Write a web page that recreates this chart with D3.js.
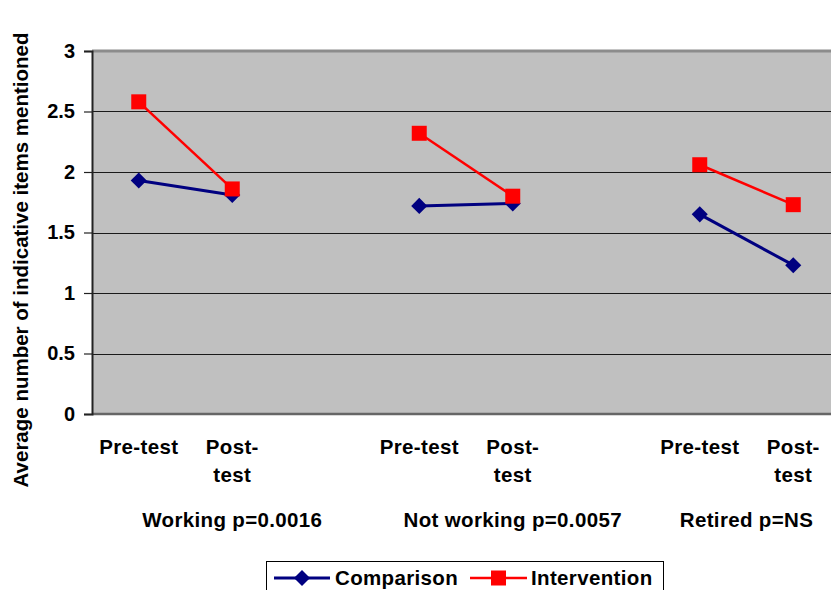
<!DOCTYPE html>
<html>
<head>
<meta charset="utf-8">
<script src="https://cdn.jsdelivr.net/npm/d3@7"></script>
<style>
  html, body { margin: 0; padding: 0; background: #fff; }
  svg { display: block; }
  text { font-family: "Liberation Sans", Arial, sans-serif; font-weight: bold; fill: #000; }
  .lbl { font-size: 20.5px; letter-spacing: 0.35px; }
</style>
</head>
<body>
<svg id="chart" width="831" height="590"></svg>
<script>
// Employment groups and the test phase within each group
const groups = ["Working p=0.0016", "Not working p=0.0057", "Retired p=NS"];
const phases = ["Pre-test", "Post-test"];
const phaseLabels = [["Pre-test"], ["Post-", "test"]];

// Average number of indicative items mentioned, per group: [pre, post]
const comparison = [[1.93, 1.81], [1.72, 1.74], [1.65, 1.23]];
const intervention = [[2.58, 1.86], [2.32, 1.80], [2.06, 1.73]];

const yTicks = [0, 0.5, 1, 1.5, 2, 2.5, 3];
const yTitle = "Average number of indicative items mentioned";
const seriesNames = ["Comparison", "Intervention"];

// Category slots: each group gets its two phases plus an empty spacer (except the last)
const slots = [];
groups.forEach((g, gi) => {
  phases.forEach((p, pi) => slots.push({ key: gi + "-" + pi, group: gi, phase: pi }));
  if (gi < groups.length - 1) slots.push({ key: gi + "-gap", group: gi, phase: null });
});

const svg = d3.select("#chart");
const plot = { left: 92, top: 51, right: 840, bottom: 414 };

const x = d3.scaleBand().domain(slots.map(d => d.key)).range([plot.left, plot.right]).paddingInner(0).paddingOuter(0);
const y = d3.scaleLinear().domain([0, 3]).range([plot.bottom, plot.top]);
const cx = key => x(key) + x.bandwidth() / 2;

// Plot area background
svg.append("rect")
  .attr("x", plot.left).attr("y", plot.top)
  .attr("width", plot.right - plot.left).attr("height", plot.bottom - plot.top)
  .attr("fill", "#c0c0c0");

// Horizontal gridlines
svg.append("g").selectAll("line")
  .data(yTicks.filter(t => t > 0 && t < 3))
  .join("line")
  .attr("x1", plot.left).attr("x2", plot.right)
  .attr("y1", d => Math.round(y(d)) + 0.5).attr("y2", d => Math.round(y(d)) + 0.5)
  .attr("stroke", "#1a1a1a").attr("stroke-width", 1);

// Plot area frame top and bottom
svg.append("line")
  .attr("x1", plot.left).attr("x2", plot.right)
  .attr("y1", plot.top).attr("y2", plot.top)
  .attr("stroke", "#8c8c8c").attr("stroke-width", 3);
svg.append("line")
  .attr("x1", plot.left).attr("x2", plot.right)
  .attr("y1", plot.bottom).attr("y2", plot.bottom)
  .attr("stroke", "#666").attr("stroke-width", 2.5);

// Y axis
const yAxis = d3.axisLeft(y).tickValues(yTicks).tickFormat(d3.format("")).tickSize(8).tickPadding(9);
const yg = svg.append("g").attr("transform", `translate(${plot.left},0)`).call(yAxis);
yg.select(".domain").attr("stroke", "#222").attr("stroke-width", 2);
yg.selectAll(".tick line").attr("stroke", "#222").attr("stroke-width", 1.2);
yg.selectAll(".tick text")
  .attr("font-size", 20).attr("font-family", "Liberation Sans, Arial, sans-serif")
  .attr("font-weight", "bold").attr("fill", "#000");

// Y axis title
svg.append("text")
  .attr("transform", `translate(28,260) rotate(-90)`)
  .attr("text-anchor", "middle")
  .attr("font-size", 20.5)
  .text(yTitle);

// Phase labels under each category
const phaseSlots = slots.filter(d => d.phase !== null);
const pl = svg.append("g").selectAll("text")
  .data(phaseSlots)
  .join("text")
  .attr("class", "lbl")
  .attr("x", d => cx(d.key))
  .attr("y", 454)
  .attr("text-anchor", "middle");
pl.selectAll("tspan")
  .data(d => phaseLabels[d.phase].map(t => ({ t, x: cx(d.key) })))
  .join("tspan")
  .attr("x", d => d.x)
  .attr("dy", (d, i) => i === 0 ? 0 : 28)
  .text(d => d.t);

// Group labels, centred under the span of slots belonging to each group
svg.append("g").selectAll("text")
  .data(groups)
  .join("text")
  .attr("class", "lbl")
  .attr("x", (g, gi) => {
    const ks = slots.filter(s => s.group === gi);
    const a = x(ks[0].key), b = x(ks[ks.length - 1].key) + x.bandwidth();
    return (a + b) / 2;
  })
  .attr("y", 527)
  .attr("text-anchor", "middle")
  .text(d => d);

// Series lines and markers (one segment per group)
const series = [
  { name: seriesNames[0], values: comparison, color: "#000080", width: 3, marker: "diamond" },
  { name: seriesNames[1], values: intervention, color: "#ff0000", width: 2.5, marker: "square" }
];
const line = d3.line().x(d => d[0]).y(d => d[1]);
const diamond = d3.symbol().type(d3.symbolDiamond2).size(165);

function drawMarker(sel, s, px, py) {
  if (s.marker === "square") {
    sel.append("rect")
      .attr("x", px - 7.5).attr("y", py - 7.5)
      .attr("width", 15).attr("height", 15)
      .attr("fill", s.color);
  } else {
    sel.append("path")
      .attr("d", diamond())
      .attr("transform", `translate(${px},${py})`)
      .attr("fill", s.color);
  }
}

series.forEach(s => {
  const g = svg.append("g");
  s.values.forEach((vals, gi) => {
    const pts = vals.map((v, pi) => [cx(gi + "-" + pi), y(v)]);
    g.append("path")
      .attr("d", line(pts))
      .attr("fill", "none")
      .attr("stroke", s.color)
      .attr("stroke-width", s.width);
    pts.forEach(p => drawMarker(g, s, p[0], p[1]));
  });
});

// Legend
const legend = svg.append("g");
legend.append("rect")
  .attr("x", 266.5).attr("y", 561.5)
  .attr("width", 397).attr("height", 40)
  .attr("fill", "#fff").attr("stroke", "#000").attr("stroke-width", 1);
const legendItems = [
  { s: series[0], x0: 274, x1: 330, tx: 335 },
  { s: series[1], x0: 470, x1: 527, tx: 531 }
];
legendItems.forEach(it => {
  const ly = 578;
  legend.append("line")
    .attr("x1", it.x0).attr("x2", it.x1).attr("y1", ly).attr("y2", ly)
    .attr("stroke", it.s.color).attr("stroke-width", it.s.width);
  drawMarker(legend, it.s, (it.x0 + it.x1) / 2, ly);
  legend.append("text")
    .attr("class", "lbl")
    .attr("x", it.tx).attr("y", 585)
    .text(it.s.name);
});
</script>
</body>
</html>
